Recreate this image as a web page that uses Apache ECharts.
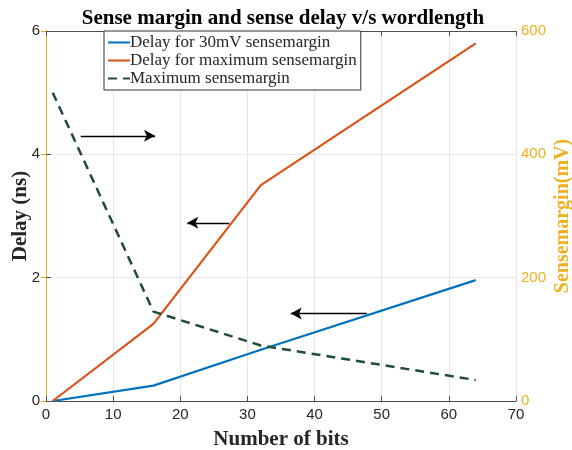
<!DOCTYPE html>
<html>
<head>
<meta charset="utf-8">
<script src="https://cdn.jsdelivr.net/npm/echarts@6/dist/echarts.min.js"></script>
<style>
  html, body { margin: 0; padding: 0; background: #fff; }
  #chart { width: 572px; height: 450px; }
</style>
</head>
<body>
<div id="chart"></div>
<script>
// Word length (number of bits)
const bits = [1, 16, 32, 64];
// Sense delay (ns)
const delay30mV = [0, 0.25, 0.83, 1.96];
const delayMaxMargin = [0, 1.25, 3.5, 5.8];
// Maximum sense margin (mV)
const maxSenseMargin = [500, 145, 90, 34];

const xTicks = [0, 10, 20, 30, 40, 50, 60, 70];
const leftTicks = [0, 2, 4, 6];
const rightTicks = [0, 200, 400, 600];

// Annotation arrows: [startX, endX, delay]
const arrows = [
  [5.17, 16.23, 4.30],
  [27.3, 21.05, 2.89],
  [47.77, 36.45, 1.42]
];

const names = ['Delay for 30mV sensemargin', 'Delay for maximum sensemargin', 'Maximum sensemargin'];

const pairs = (ys) => bits.map((b, i) => [b, ys[i]]);

const serif = 'Liberation Serif';
const sans = 'Liberation Sans';
const axisGray = '#4d4d4d';
const gold = '#EDB120';

const chart = echarts.init(document.getElementById('chart'), null, { renderer: 'canvas' });

const xAxisBase = {
  type: 'value',
  min: xTicks[0],
  max: xTicks[xTicks.length - 1],
  interval: 10,
  axisLine: { show: true, onZero: false, lineStyle: { color: axisGray, width: 1 } },
  axisTick: { show: true, inside: true, length: 5, lineStyle: { color: axisGray } },
};

chart.setOption({
  animation: false,
  backgroundColor: '#fff',
  title: {
    text: 'Sense margin and sense delay v/s wordlength',
    left: 278,
    textAlign: 'center',
    top: 3,
    textStyle: { fontFamily: serif, fontWeight: 'bold', fontSize: 21, color: '#000' }
  },
  grid: { left: 46, right: 56, top: 31, bottom: 49, containLabel: false, outerBoundsMode: 'none' },
  legend: {
    orient: 'vertical',
    left: 104,
    top: 31,
    width: 257,
    padding: [3, 4, 3, 3],
    itemGap: 1,
    itemWidth: 22,
    itemHeight: 17,
    backgroundColor: '#fff',
    borderColor: '#333',
    borderWidth: 1,
    borderRadius: 0,
    data: names,
    itemStyle: { opacity: 0 },
    textStyle: { fontFamily: serif, fontSize: 17, color: '#262626', padding: [0, 0, 0, -5] }
  },
  xAxis: [
    Object.assign({}, xAxisBase, {
      position: 'bottom',
      name: 'Number of bits',
      nameLocation: 'middle',
      nameGap: 28,
      nameTextStyle: { fontFamily: serif, fontWeight: 'bold', fontSize: 21, color: '#262626' },
      axisLabel: { fontFamily: sans, fontSize: 15, color: '#262626', margin: 6 },
      splitLine: { show: true, lineStyle: { color: '#e6e6e6', width: 1 } }
    }),
    Object.assign({}, xAxisBase, {
      position: 'top',
      axisLabel: { show: false },
      splitLine: { show: false }
    })
  ],
  yAxis: [
    {
      type: 'value',
      position: 'left',
      min: leftTicks[0],
      max: leftTicks[leftTicks.length - 1],
      interval: 2,
      name: 'Delay (ns)',
      nameLocation: 'middle',
      nameGap: 15,
      nameMoveOverlap: false,
      nameTextStyle: { fontFamily: serif, fontWeight: 'bold', fontSize: 21, color: '#262626' },
      axisLine: { show: true, lineStyle: { color: axisGray, width: 1 } },
      axisTick: { show: true, inside: true, length: 5, lineStyle: { color: axisGray } },
      axisLabel: { fontFamily: sans, fontSize: 15, color: '#262626', margin: 6 },
      splitLine: { show: true, lineStyle: { color: '#e6e6e6', width: 1 } }
    },
    {
      type: 'value',
      position: 'right',
      min: rightTicks[0],
      max: rightTicks[rightTicks.length - 1],
      interval: 200,
      name: 'Sensemargin(mV)',
      nameLocation: 'middle',
      nameGap: 37,
      nameMoveOverlap: false,
      nameRotate: 90,
      nameTextStyle: { fontFamily: serif, fontWeight: 'bold', fontSize: 20, color: gold },
      axisLine: { show: true, lineStyle: { color: gold, width: 1 } },
      axisTick: { show: true, inside: true, length: 5, lineStyle: { color: gold } },
      axisLabel: { fontFamily: sans, fontSize: 15, color: gold, margin: 5 },
      splitLine: { show: false }
    }
  ],
  series: [
    {
      name: names[0],
      type: 'line',
      xAxisIndex: 0,
      yAxisIndex: 0,
      data: pairs(delay30mV),
      symbol: 'none',
      lineStyle: { color: '#0072BD', width: 2.2 },
      itemStyle: { color: '#0072BD' },
      z: 3,
      markLine: {
        silent: true,
        animation: false,
        symbol: ['none', 'arrow'],
        symbolSize: [9, 11],
        label: { show: false },
        lineStyle: { color: '#000', width: 1.3, type: 'solid' },
        data: arrows.map(a => [{ coord: [a[0], a[2]] }, { coord: [a[1], a[2]] }])
      }
    },
    {
      name: names[1],
      type: 'line',
      xAxisIndex: 0,
      yAxisIndex: 0,
      data: pairs(delayMaxMargin),
      symbol: 'none',
      lineStyle: { color: '#D95319', width: 2.2 },
      itemStyle: { color: '#D95319' },
      z: 3
    },
    {
      name: names[2],
      type: 'line',
      xAxisIndex: 0,
      yAxisIndex: 1,
      data: pairs(maxSenseMargin),
      symbol: 'none',
      lineStyle: { color: '#1e4d36', width: 2.5, type: [9, 6] },
      itemStyle: { color: '#1e4d36' },
      z: 3
    }
  ]
});
</script>
</body>
</html>
